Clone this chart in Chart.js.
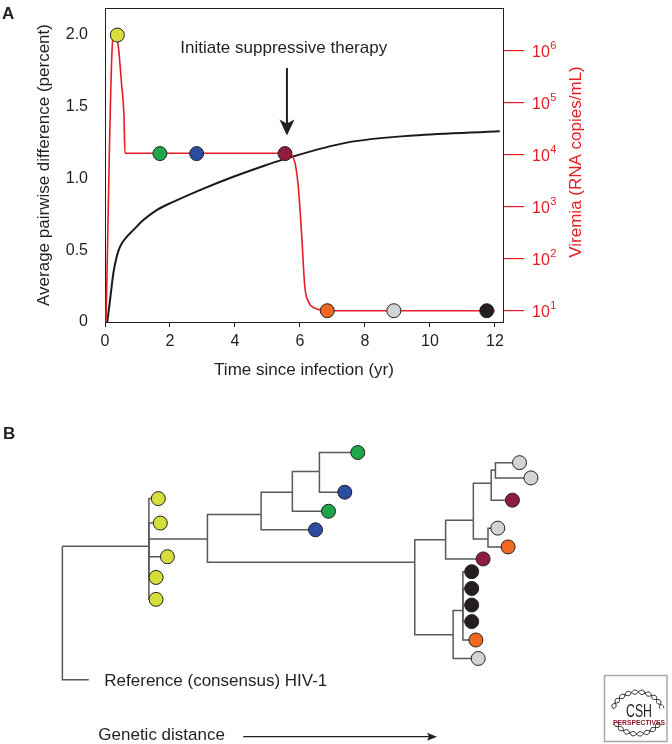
<!DOCTYPE html>
<html>
<head>
<meta charset="utf-8">
<script src="https://cdn.jsdelivr.net/npm/chart.js@4.4.1/dist/chart.umd.min.js"></script>
<style>
  body { margin: 0; background: #fff; }
  #wrap { width: 672px; height: 744px; background: #fff; }
  canvas { display: block; }
</style>
</head>
<body>
<div id="wrap">
  <canvas id="viremia" width="672" height="400"></canvas>
  <canvas id="tree" width="672" height="344"></canvas>
</div>
<script>
//============== PANEL A DATA ==============
var year_ticks = [0, 2, 4, 6, 8, 10, 12];
var diversity_ticks = [0, 0.5, 1, 1.5, 2];
var viremia_ticks = [1e1, 1e2, 1e3, 1e4, 1e5, 1e6];

// average pairwise difference (percent) vs years
var diversity_time = [0.07, 0.154, 0.256, 0.36, 0.46, 0.667, 0.87, 1.18, 1.59, 2.1, 2.92, 3.95, 4.97, 5.59, 7.44, 9.49, 12.15];
var diversity_pct = [0, 0.151, 0.338, 0.454, 0.523, 0.593, 0.64, 0.71, 0.78, 0.837, 0.919, 1.012, 1.094, 1.14, 1.25, 1.3, 1.33];

// viremia (RNA copies/mL) vs years
var viremia_time = [0.03, 0.237, 0.31, 0.41, 0.51, 0.585, 0.615, 3.0, 5.6, 5.74, 5.85, 5.95, 6.05, 6.15, 6.26, 6.46, 6.71, 7.0, 12.0];
var viremia_copies = [6.1, 1.6e6, 2.1e6, 1.2e6, 2.3e5, 5.4e4, 1.07e4, 1.07e4, 1.07e4, 9800, 6900, 2400, 310, 29, 15, 11.2, 10.2, 10, 10];

// sampling time points
var sample_time = [0.38, 1.69, 2.82, 5.54, 6.84, 8.89, 11.75];
var sample_copies = [2.0e6, 1.05e4, 1.05e4, 1.05e4, 10, 10, 10];
var sample_colors = ["#d5de3b", "#1ea64b", "#2c4ca2", "#8d1c3d", "#f26722", "#d1d3d4", "#231f20"];

var therapy_start = 5.6;

//============== PANEL B DATA ==============
// tree nodes: [parent index, distance from root, vertical row, colour or null]
var tree_nodes = [
  [-1, 0, 12.5, null],       // 0 root
  [0, 2.7, 26.5, null],      // 1 reference
  [0, 8.86, 12.5, null],     // 2 yellow clade
  [2, 9.83, 7.5, "#d5de3b"],
  [2, 10.03, 10.07, "#d5de3b"],
  [2, 10.76, 13.6, "#d5de3b"],
  [2, 9.6, 15.77, "#d5de3b"],
  [2, 9.6, 18.07, "#d5de3b"],
  [2, 14.86, 11.73, null],   // 8
  [8, 20.36, 9.17, null],    // 9
  [9, 25.93, 10.77, "#2c4ca2"],
  [9, 23.56, 6.83, null],    // 11
  [11, 27.26, 8.83, "#1ea64b"],
  [11, 26.33, 4.67, null],   // 13
  [13, 30.26, 2.67, "#1ea64b"],
  [13, 28.93, 6.83, "#2c4ca2"],
  [8, 36.1, 14.17, null],    // 16
  [16, 39.26, 11.83, null],  // 17
  [17, 43.1, 13.83, "#8d1c3d"],
  [17, 42.1, 9.77, null],    // 19
  [19, 43.93, 5.9, null],    // 20
  [20, 46.1, 7.67, "#8d1c3d"],
  [20, 44.36, 4.5, null],    // 22
  [22, 46.83, 3.73, "#d1d3d4"],
  [22, 48.0, 5.33, "#d1d3d4"],
  [19, 43.6, 11.73, null],   // 25
  [25, 44.6, 10.6, "#d1d3d4"],
  [25, 45.66, 12.57, "#f26722"],
  [16, 40.03, 21.77, null],  // 28
  [28, 41.03, 19.23, null],  // 29
  [29, 41.93, 15.17, "#231f20"],
  [29, 41.93, 16.93, "#231f20"],
  [29, 41.93, 18.67, "#231f20"],
  [29, 41.93, 20.4, "#231f20"],
  [29, 42.36, 22.33, "#f26722"],
  [28, 42.6, 24.27, "#d1d3d4"]
];
var reference_node = 1;

var RED = "#e31e24";
var INK = "#231f20";
var FONT = "'Liberation Sans', Arial, Helvetica, sans-serif";
Chart.defaults.font.family = FONT;
Chart.defaults.color = INK;

//------ panel A chart ------
var diversity_points = diversity_time.map(function (t, i) {
  return { x: t, y: diversity_pct[i] };
});
var viremia_points = viremia_time.map(function (t, i) {
  return { x: t, y: viremia_copies[i] };
});
var sample_points = sample_time.map(function (t, i) {
  return { x: t, y: sample_copies[i] };
});

var panelA = {
  id: "panelA",
  beforeDatasetsDraw: function (chart) {
    var a = chart.chartArea;
    var c = chart.ctx;
    c.save();
    c.strokeStyle = INK;
    c.lineWidth = 1;
    c.beginPath();
    c.moveTo(a.left, Math.round(a.top) + 0.5);
    c.lineTo(a.right, Math.round(a.top) + 0.5);
    c.stroke();
    c.restore();
  },
  afterDraw: function (chart) {
    var c = chart.ctx;
    var xs = chart.scales.x;
    var ys = chart.scales.y;
    var y2 = chart.scales.y2;
    c.save();

    // panel letter
    c.fillStyle = INK;
    c.font = "bold 17px " + FONT;
    c.textAlign = "left";
    c.textBaseline = "alphabetic";
    c.fillText("A", 2, 19);

    // therapy annotation
    var ax = xs.getPixelForValue(therapy_start);
    c.font = "17px " + FONT;
    c.textAlign = "center";
    c.textBaseline = "middle";
    c.fillText("Initiate suppressive therapy", xs.getPixelForValue(5.5), ys.getPixelForValue(1.907));
    var top = ys.getPixelForValue(1.77);
    var tip = ys.getPixelForValue(1.30);
    c.strokeStyle = INK;
    c.lineWidth = 2;
    c.beginPath();
    c.moveTo(ax, top);
    c.lineTo(ax, tip - 10);
    c.stroke();
    c.beginPath();
    c.moveTo(ax, tip);
    c.lineTo(ax - 7.5, tip - 16);
    c.lineTo(ax, tip - 12);
    c.lineTo(ax + 7.5, tip - 16);
    c.closePath();
    c.fill();

    // right axis labels 10^n
    c.fillStyle = RED;
    c.textAlign = "left";
    c.textBaseline = "alphabetic";
    viremia_ticks.forEach(function (v) {
      var py = y2.getPixelForValue(v);
      c.font = "16px " + FONT;
      c.fillText("10", 532, py + 6);
      var w = c.measureText("10").width;
      c.font = "11px " + FONT;
      c.fillText(String(Math.round(Math.log10(v))), 532 + w + 0.5, py - 2);
    });

    // right axis title
    c.translate(576, (chart.chartArea.top + chart.chartArea.bottom) / 2 - 3);
    c.rotate(-Math.PI / 2);
    c.font = "17px " + FONT;
    c.textAlign = "center";
    c.textBaseline = "middle";
    c.fillText("Viremia (RNA copies/mL)", 0, 0);
    c.restore();
  }
};

new Chart(document.getElementById("viremia").getContext("2d"), {
  type: "line",
  data: {
    datasets: [
      {
        label: "Samples",
        data: sample_points,
        yAxisID: "y2",
        showLine: false,
        pointRadius: 7,
        pointHoverRadius: 7,
        pointBackgroundColor: sample_colors,
        pointBorderColor: INK,
        pointBorderWidth: 1
      },
      {
        label: "Viremia",
        data: viremia_points,
        yAxisID: "y2",
        borderColor: RED,
        borderWidth: 1.6,
        pointRadius: 0,
        cubicInterpolationMode: "monotone",
        fill: false
      },
      {
        label: "Diversity",
        data: diversity_points,
        yAxisID: "y",
        borderColor: "#1a1a1a",
        borderWidth: 2,
        pointRadius: 0,
        cubicInterpolationMode: "monotone",
        fill: false
      }
    ]
  },
  options: {
    responsive: false,
    animation: false,
    layout: { padding: { top: 8, left: 0, right: 0, bottom: 0 } },
    plugins: { legend: { display: false }, tooltip: { enabled: false } },
    scales: {
      x: {
        type: "linear",
        min: 0,
        max: 12.25,
        bounds: "data",
        afterBuildTicks: function (s) {
          s.ticks = year_ticks.map(function (v) { return { value: v }; });
        },
        afterFit: function (s) {
          s.height = 78;
          s.paddingLeft = 0;
          s.paddingRight = 0;
        },
        ticks: { autoSkip: false, maxRotation: 0, padding: 5, font: { size: 16 }, color: INK },
        grid: { display: true, drawOnChartArea: false, drawTicks: true, tickLength: 5, tickColor: INK, lineWidth: 1 },
        border: { display: true, color: INK, width: 1 },
        title: { display: true, text: "Time since infection (yr)", font: { size: 17 }, color: INK, padding: { top: 0, bottom: 19 } }
      },
      y: {
        type: "linear",
        position: "left",
        min: 0,
        max: 2.188,
        bounds: "data",
        afterBuildTicks: function (s) {
          s.ticks = diversity_ticks.map(function (v) { return { value: v }; });
        },
        afterFit: function (s) {
          s.width = 105;
          s.paddingTop = 0;
          s.paddingBottom = 0;
        },
        ticks: {
          autoSkip: false,
          padding: 17,
          font: { size: 16 },
          color: INK,
          callback: function (v) { return v === 0 ? "0" : v.toFixed(1); }
        },
        grid: { display: false, drawTicks: false },
        border: { display: true, color: INK, width: 1 },
        title: { display: true, text: "Average pairwise difference (percent)", font: { size: 17 }, color: INK, padding: { top: 34, bottom: 0 } }
      },
      y2: {
        type: "logarithmic",
        position: "right",
        min: 6.07,
        max: 6.62e6,
        bounds: "data",
        afterBuildTicks: function (s) {
          s.ticks = viremia_ticks.map(function (v) { return { value: v }; });
        },
        afterFit: function (s) {
          s.width = 169;
          s.paddingTop = 0;
          s.paddingBottom = 0;
        },
        ticks: { autoSkip: false, callback: function () { return ""; } },
        grid: { display: true, drawOnChartArea: false, drawTicks: true, tickLength: 21, color: RED, tickColor: RED, lineWidth: 1.2 },
        border: { display: true, color: INK, width: 1 }
      }
    }
  },
  plugins: [panelA]
});

//------ panel B chart (phylogeny) ------
var branch_sets = [];
tree_nodes.forEach(function (n) {
  if (n[0] < 0) return;
  var p = tree_nodes[n[0]];
  branch_sets.push({
    data: [{ x: p[1], y: p[2] }, { x: p[1], y: n[2] }, { x: n[1], y: n[2] }],
    borderColor: "#58595b",
    borderWidth: 1.5,
    pointRadius: 0,
    tension: 0,
    fill: false
  });
});
var leaves = tree_nodes.filter(function (n) { return n[3] !== null; });
var leaf_set = {
  data: leaves.map(function (n) { return { x: n[1], y: n[2] }; }),
  showLine: false,
  pointRadius: 7,
  pointHoverRadius: 7,
  pointBackgroundColor: leaves.map(function (n) { return n[3]; }),
  pointBorderColor: INK,
  pointBorderWidth: 1
};

var panelB = {
  id: "panelB",
  afterDraw: function (chart) {
    var c = chart.ctx;
    var xs = chart.scales.x;
    var ys = chart.scales.y;
    var ref = tree_nodes[reference_node];
    c.save();
    c.fillStyle = INK;
    c.font = "bold 17px " + FONT;
    c.textBaseline = "alphabetic";
    c.textAlign = "left";
    c.fillText("B", 3, 38.5);

    c.font = "17px " + FONT;
    c.textBaseline = "middle";
    c.fillText("Reference (consensus) HIV-1", xs.getPixelForValue(ref[1]) + 15.6, ys.getPixelForValue(ref[2]) + 2);
    c.fillText("Genetic distance", 98.3, 335);

    // distance arrow
    c.strokeStyle = INK;
    c.lineWidth = 1.2;
    c.beginPath();
    c.moveTo(243.3, 336.7);
    c.lineTo(430, 336.7);
    c.stroke();
    c.beginPath();
    c.moveTo(437, 336.7);
    c.lineTo(427, 332.7);
    c.lineTo(429, 336.7);
    c.lineTo(427, 340.7);
    c.closePath();
    c.fill();

    // CSH Perspectives badge
    c.strokeStyle = "#a7a9ac";
    c.lineWidth = 1.5;
    c.strokeRect(604.5, 275.5, 62.5, 66);
    var cx = 637.5, cy = 313;
    c.strokeStyle = "#231f20";
    c.lineWidth = 1;
    [[192, 348], [28, 152]].forEach(function (arc) {
      for (var s = -1; s <= 1; s += 2) {
        c.beginPath();
        for (var a = arc[0]; a <= arc[1]; a += 2) {
          var k = s * 2.2 * Math.sin((a - arc[0]) * Math.PI / 16);
          var px = cx + (25 + k) * Math.cos(a * Math.PI / 180);
          var py = cy + (21 + k) * Math.sin(a * Math.PI / 180);
          if (a === arc[0]) c.moveTo(px, py); else c.lineTo(px, py);
        }
        c.stroke();
      }
    });
    c.fillStyle = "#231f20";
    c.font = "19px " + FONT;
    c.textAlign = "center";
    c.textBaseline = "alphabetic";
    c.fillText("CSH", cx + 1.5, 317, 26);
    c.fillStyle = "#8b1a2e";
    c.font = "bold 7px " + FONT;
    c.fillText("PERSPECTIVES", cx + 1.5, 325, 52);
    c.restore();
  }
};

new Chart(document.getElementById("tree").getContext("2d"), {
  type: "line",
  data: { datasets: [leaf_set].concat(branch_sets) },
  options: {
    responsive: false,
    animation: false,
    layout: { padding: 0 },
    plugins: { legend: { display: false }, tooltip: { enabled: false } },
    scales: {
      x: { type: "linear", display: false, min: -5.57, max: 61.63 },
      y: { type: "linear", display: false, min: -2, max: 32.4, reverse: true }
    }
  },
  plugins: [panelB]
});
</script>
</body>
</html>
